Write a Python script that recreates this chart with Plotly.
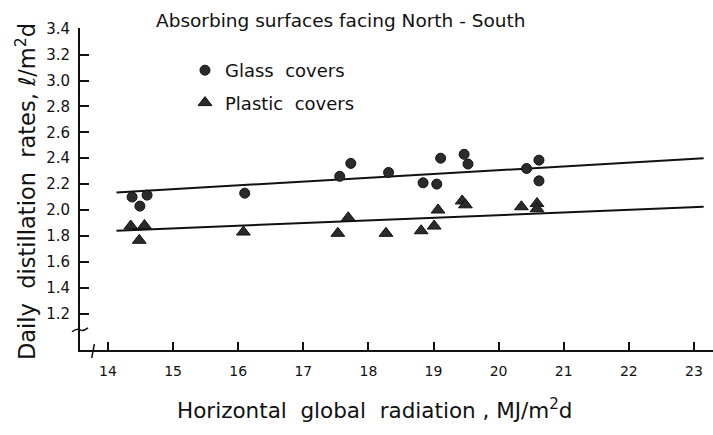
import plotly.graph_objects as go

# ---- data ----
glass_x = [14.37, 14.60, 14.49, 16.10, 17.56, 17.73, 18.31, 18.84, 19.05, 19.11,
           19.47, 19.53, 20.43, 20.62, 20.62]
glass_y = [2.10, 2.115, 2.03, 2.13, 2.26, 2.36, 2.29, 2.21, 2.20, 2.40,
           2.43, 2.355, 2.32, 2.385, 2.225]

plastic_x = [14.35, 14.56, 14.48, 16.08, 17.53, 17.69, 18.27, 18.81, 19.01, 19.07,
             19.44, 19.49, 20.35, 20.59, 20.59]
plastic_y = [1.876, 1.88, 1.766, 1.83, 1.82, 1.94, 1.82, 1.84, 1.876, 2.00,
             2.07, 2.04, 2.025, 2.05, 2.01]

fit_x = [14.13, 23.15]
glass_fit = [2.135, 2.40]
plastic_fit = [1.84, 2.025]

y_ticks = [1.2, 1.4, 1.6, 1.8, 2.0, 2.2, 2.4, 2.6, 2.8, 3.0, 3.2, 3.4]
x_ticks = [14, 15, 16, 17, 18, 19, 20, 21, 22, 23]

FONT = "DejaVu Sans"
INK = "#111111"

fig = go.Figure()

fig.add_trace(go.Scatter(x=fit_x, y=glass_fit, mode="lines",
                         line=dict(color=INK, width=2), showlegend=False,
                         hoverinfo="skip"))
fig.add_trace(go.Scatter(x=fit_x, y=plastic_fit, mode="lines",
                         line=dict(color=INK, width=2), showlegend=False,
                         hoverinfo="skip"))

fig.add_trace(go.Scatter(x=glass_x, y=glass_y, mode="markers",
                         name="Glass  covers", legendgroup="g",
                         marker=dict(symbol="circle", size=10, color="#2b2b2b",
                                     line=dict(color=INK, width=1))))
fig.add_trace(go.Scatter(x=plastic_x, y=plastic_y, mode="markers",
                         name="Plastic  covers", legendgroup="p",
                         marker=dict(symbol="triangle-up", size=12, color="#2b2b2b",
                                     line=dict(color=INK, width=1))))

L, R, T, B = 80, 0, 28, 85
W, H = 713, 435
pw = W - L - R
ph = H - T - B

xr = [14 - (108 - L) / 65.1, 14 + (W - 108) / 65.1]
yr = [2.0 - (H - B - 210) / 129.5, 2.0 + (210 - T) / 129.5]

fig.update_layout(
    width=W, height=H,
    margin=dict(l=L, r=R, t=T, b=B),
    paper_bgcolor="white", plot_bgcolor="white",
    font=dict(family=FONT, color=INK),
    showlegend=True,
    legend=dict(x=(185 - L) / pw, y=(H - B - 52) / ph, xanchor="left", yanchor="top",
                font=dict(size=18, family=FONT, color=INK),
                bgcolor="rgba(0,0,0,0)", tracegroupgap=6, itemwidth=30),
    xaxis=dict(range=xr, tickvals=x_ticks, ticktext=[str(v) for v in x_ticks],
               showline=True, linecolor=INK, linewidth=2, ticks="inside",
               ticklen=8, tickwidth=1.5, tickcolor=INK, showgrid=False,
               zeroline=False, tickfont=dict(size=14, family=FONT, color=INK),
               ticklabelstandoff=7),
    yaxis=dict(range=yr, tickvals=y_ticks, ticktext=[f"{v:.1f}" for v in y_ticks],
               showline=True, linecolor=INK, linewidth=2, ticks="inside",
               ticklen=9, tickwidth=1.5, tickcolor=INK, showgrid=False,
               zeroline=False, tickfont=dict(size=15, family=FONT, color=INK),
               ticklabelstandoff=5),
    annotations=[
        dict(text="Absorbing surfaces facing North - South", xref="paper", yref="paper",
             x=(341 - L) / pw, y=(H - B - 21) / ph, xanchor="center", yanchor="middle",
             showarrow=False, font=dict(size=18.5, family=FONT, color=INK)),
        dict(text="Horizontal  global  radiation , MJ/m<sup>2</sup>d", xref="paper", yref="paper",
             x=(375 - L) / pw, y=(H - B - 409) / ph, xanchor="center", yanchor="middle",
             showarrow=False, font=dict(size=21.5, family=FONT, color=INK)),
        dict(text="Daily  distillation  rates, ℓ/m<sup>2</sup>d", xref="paper", yref="paper",
             x=(25 - L) / pw, y=(H - B - 192) / ph, xanchor="center", yanchor="middle",
             textangle=-90, showarrow=False, font=dict(size=22.5, family=FONT, color=INK)),
    ],
    shapes=[
        # y-axis break
        dict(type="path", xref="paper", yref="y",
             path=f"M {-8/pw} 1.06 Q {-3/pw} 1.09 {0} 1.075 T {8/pw} 1.09",
             line=dict(color=INK, width=1.5)),
        # x-axis break
        dict(type="line", xref="x", yref="paper", x0=13.75, x1=13.79,
             y0=-8/ph, y1=6/ph, line=dict(color=INK, width=1.5)),
    ],
)

fig.write_html("out.html")
